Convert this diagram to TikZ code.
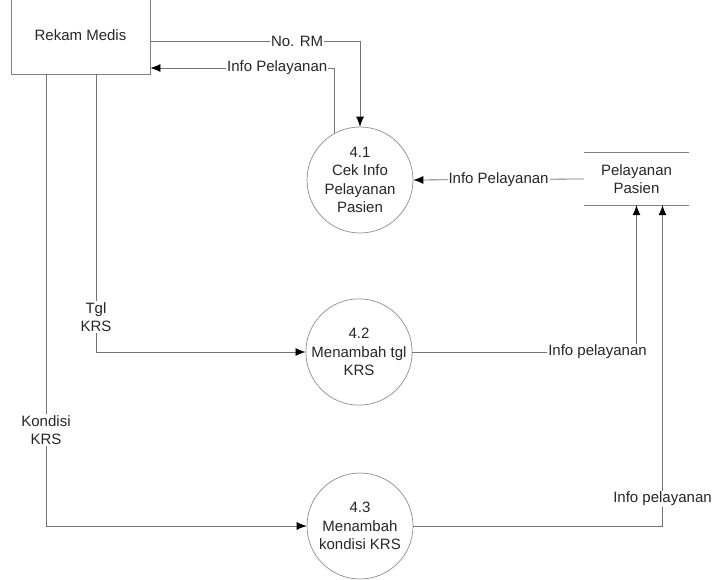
\documentclass[tikz,border=0pt]{standalone}
\usepackage{fontspec}
\setmainfont{Liberation Sans}
\usetikzlibrary{arrows.meta}
\begin{document}
\begin{tikzpicture}[x=1pt, y=-1pt,
  every node/.style={font=\fontsize{15}{18.5}\selectfont, text=black!85},
  entity/.style={draw=black!50, line width=0.8pt, minimum width=139pt, minimum height=78pt, inner sep=0pt},
  process/.style={draw=black!45, line width=0.7pt, circle, minimum size=106pt, inner sep=0pt, align=center},
  datastore/.style={minimum width=105pt, minimum height=52pt, inner sep=0pt, align=center},
  flow/.style={draw=black!55, line width=0.8pt, -{Latex[length=10pt, width=8pt, color=black]}},
  lbl/.style={fill=white, inner sep=1pt, align=center}]
\useasboundingbox (0,0) rectangle (716,580);
% external entity, processes and data store
\node [entity] (rm) at (80.5,35) {\raisebox{-5pt}{Rekam Medis}};
\node [process] (p1) at (360,180) {4.1\\Cek Info\\Pelayanan\\Pasien};
\node [process] (p2) at (359,352) {4.2\\Menambah tgl\\KRS};
\node [process] (p3) at (360,526) {4.3\\Menambah\\kondisi KRS};
\node [datastore] (ps) at (636.5,179) {Pelayanan\\Pasien};
\draw [draw=black!50, line width=0.8pt] (ps.north west) -- (ps.north east) (ps.south west) -- (ps.south east);
% data flows
\draw [flow] ([yshift=-6pt]rm.east) -| node [lbl, pos=0.35] {No. RM} (p1.north);
\draw [flow] (p1.119) |- node [lbl, pos=0.655] {Info Pelayanan} ([yshift=-33pt]rm.east);
\draw [flow] (ps.west) -- node [lbl] {Info Pelayanan} (p1.east);
\draw [flow] ([xshift=15.5pt]rm.south) |- node [lbl, pos=0.437] {Tgl\\KRS} (p2.west);
\draw [flow] ([xshift=-34.5pt]rm.south) |- node [lbl, pos=0.394] {Kondisi\\KRS} (p3.west);
\draw [flow] (p2.east) -| node [lbl, pos=0.413] {Info pelayanan} (ps.south);
\draw [flow] (p3.east) -| node [lbl, pos=0.542] {Info pelayanan} ([xshift=26pt]ps.south);
\end{tikzpicture}
\end{document}
